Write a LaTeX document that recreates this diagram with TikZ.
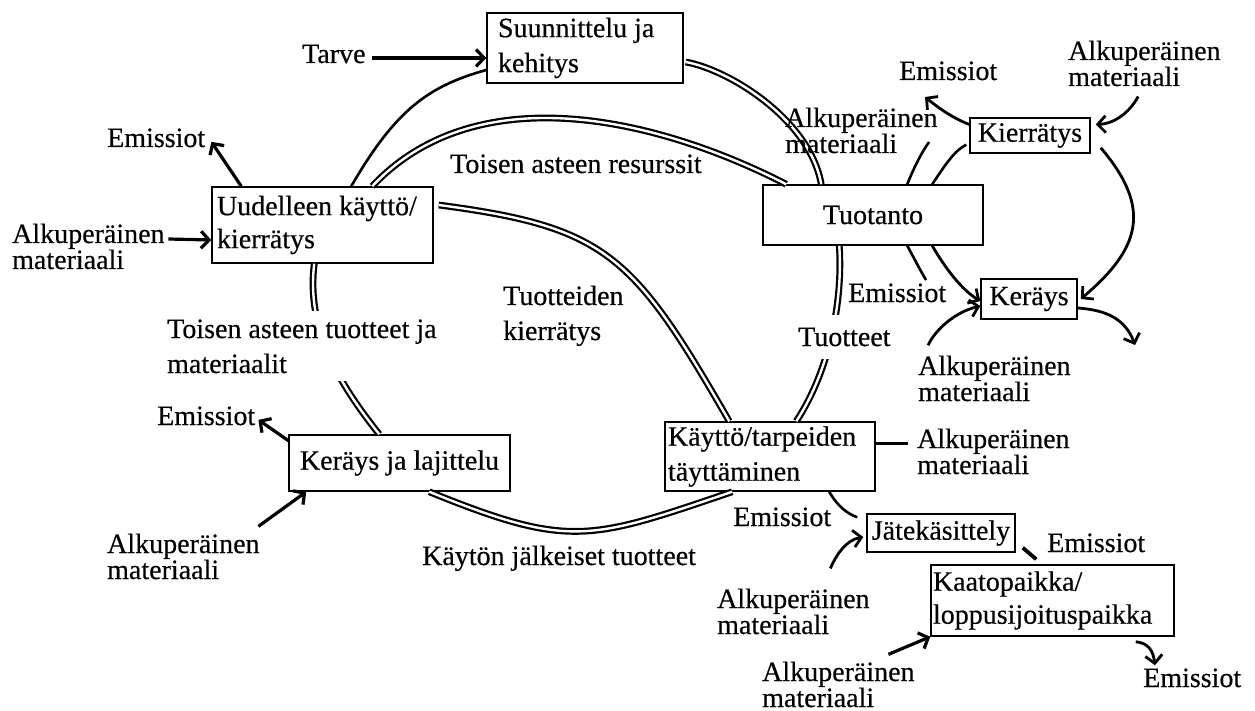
\documentclass[tikz,border=0pt]{standalone}
\usepackage{fontspec}
\setmainfont{Liberation Serif}[FakeBold=0.4]
\usetikzlibrary{arrows.meta}
\begin{document}
\begin{tikzpicture}[x=1pt,y=-1pt,
  box/.style={draw, line width=1.5pt, inner sep=0pt},
  fa/.style={font=\fontsize{28}{35}\selectfont},
  fb/.style={font=\fontsize{28}{33}\selectfont},
  lbl/.style={inner sep=0pt, anchor=base west, font=\fontsize{28}{34}\selectfont},
  alk/.style={lbl, text width=158pt, align=flush left, font=\fontsize{28}{26}\selectfont},
  ring/.style={draw, line width=2.2pt, double=white, double distance=2.4pt},
  ln/.style={draw, line width=2.6pt},
  thk/.style={draw, line width=3.8pt},
  hd/.style={-{Straight Barb[length=8pt,width=17pt]}},
  arr/.style={draw, line width=3.2pt, hd},
  arr2/.style={draw, line width=2.8pt, hd}
]
\useasboundingbox (0,0) rectangle (1255,711);
\fill[white] (0,0) rectangle (1255,711);

% boxes
\node[box, fa, minimum width=196pt, minimum height=70pt, text width=174pt, align=flush left] (sk) at (585,48) {Suunnittelu ja\\kehitys};
\node[box, fb, minimum width=221pt, minimum height=76pt, text width=211pt, align=flush left] (uud) at (322.5,225) {Uudelleen käyttö/\\kierrätys};
\node[box, fa, minimum width=220pt, minimum height=60pt] (tuo) at (873,215) {Tuotanto};
\node[box, fa, minimum width=120pt, minimum height=35pt] (kie) at (1030,135.5) {Kierrätys};
\node[box, fa, minimum width=96pt, minimum height=40pt] (ker) at (1029,299) {Keräys};
\node[box, fa, minimum width=221pt, minimum height=56pt] (kl) at (399.5,463) {Keräys ja lajittelu};
\node[box, fa, minimum width=210pt, minimum height=69pt, text width=204pt, align=flush left] (kay) at (770,456.5) {Käyttö/tarpeiden\\täyttäminen};
\node[box, fa, minimum width=148pt, minimum height=38pt] (jat) at (941,533) {Jätekäsittely};
\node[box, fb, minimum width=243pt, minimum height=71pt, text width=239pt, align=flush left] (kaa) at (1052.5,600.5) {Kaatopaikka/\\loppusijoituspaikka};

% main ring
\draw[ln] ([xshift=140pt]uud.north west) .. controls (396,109) and (429,86) .. ([yshift=-22pt]sk.west);
\draw[ring] ([xshift=2pt,yshift=-14pt]sk.east) .. controls (730,70) and (810,120) .. ([xshift=59pt]tuo.north west);
\draw[ring] ([xshift=161pt]uud.north west) .. controls (475,77) and (653,116) .. ([xshift=24pt]tuo.north west);
\draw[ring] ([xshift=5pt,yshift=20pt]uud.east) .. controls (606,227) and (633,254) .. ([xshift=65pt]kay.north west);
\draw[ring] ([xshift=77pt]tuo.south west) .. controls (843,300) and (830,370) .. ([xshift=132pt]kay.north west);
\draw[ring] ([xshift=68pt]kay.south west) .. controls (590,540) and (570,549) .. ([xshift=141pt]kl.south west);
\draw[ring] ([xshift=91pt]kl.north west) .. controls (340,385) and (306,330) .. ([xshift=103pt]uud.south west);

% right loop
\coordinate (c1) at (929,142);
\coordinate (c2) at (926,280);
\coordinate (c3) at (1135,345);
\draw[ln] ([xshift=170pt]tuo.north west) .. controls (945,165) and (955,150) .. ([xshift=-3pt,yshift=9pt]kie.south west);
\draw[ln] ([xshift=145pt]tuo.north west) .. controls (915,165) and (922,152) .. (c1);
\draw[ln] ([xshift=145pt]tuo.south west) .. controls (914,258) and (920,270) .. (c2);
\draw[arr2] ([xshift=170pt]tuo.south west) .. controls (945,268) and (962,290) .. ([yshift=-2pt]ker.west);
\draw[arr2] ([xshift=10pt,yshift=6pt]kie.south east) .. controls (1152,208) and (1141,248) .. ([xshift=3pt]ker.east);
\draw[arr2] ([yshift=-9pt]ker.east) .. controls (1105,310) and (1125,318) .. (c3);

% labels
\node[lbl] (tarve) at (302,63) {Tarve};
\node[lbl] (em1) at (107,147) {Emissiot};
\node[alk] (alk1) at (12,243) {Alkuperäinen\\materiaali};
\node[lbl] (em2) at (899,80) {Emissiot};
\node[alk] (alk2) at (1068,60) {Alkuperäinen\\materiaali};
\node[alk] (alk3) at (785,127) {Alkuperäinen\\materiaali};
\node[lbl, fill=white, inner xsep=4pt, inner ysep=2pt] (em3) at (844,302) {Emissiot};
\node[lbl, fill=white, inner xsep=2pt, inner ysep=13pt] (tuotteet) at (796,346) {Tuotteet};
\node[alk] (alk4) at (918,375) {Alkuperäinen\\materiaali};
\node[lbl] (tar) at (450,173) {Toisen asteen resurssit};
\node[lbl, text width=150pt, align=flush left, font=\fontsize{28}{35}\selectfont] (tk) at (503,305) {Tuotteiden\\kierrätys};
\node[lbl, fill=white, inner xsep=0pt, inner ysep=8pt, text width=290pt, align=flush left, font=\fontsize{28}{35}\selectfont] (tat) at (167,338) {Toisen asteen tuotteet ja\\materiaalit};
\node[lbl] (em4) at (157,425) {Emissiot};
\node[alk] (alk5) at (107,553) {Alkuperäinen\\materiaali};
\node[lbl] (kjt) at (422,565) {Käytön jälkeiset tuotteet};
\node[alk] (alk6) at (917,448) {Alkuperäinen\\materiaali};
\node[lbl] (em5) at (733,526) {Emissiot};
\node[alk] (alk7) at (717,608) {Alkuperäinen\\materiaali};
\node[lbl] (em6) at (1047,552) {Emissiot};
\node[alk] (alk8) at (762,681) {Alkuperäinen\\materiaali};
\node[lbl] (em7) at (1143,687) {Emissiot};

% arrows
\draw[arr] ([xshift=6pt,yshift=5pt]tarve.base east) -- ([yshift=-10pt]sk.west);
\draw[arr] ([xshift=30pt]uud.north west) -- ([xshift=6pt,yshift=-4pt]em1.east);
\draw[arr] ([xshift=-2pt,yshift=4pt]alk1.base east) -- ([yshift=-15pt]uud.west);
\draw[arr2] ([yshift=11pt]kie.west) .. controls (950,117) and (935,105) .. ([xshift=26pt,yshift=-17pt]em2.base west);
\draw[arr2] ([xshift=-9pt,yshift=-10pt]alk2.south) .. controls (1128,115) and (1112,124) .. ([xshift=5pt,yshift=11pt]kie.east);
\draw[arr2] ([xshift=10pt,yshift=10pt]alk4.north west) .. controls (935,330) and (955,312) .. ([yshift=-7pt]ker.west);
\draw[arr] ([xshift=1pt,yshift=-7pt]kl.north west) -- ([xshift=3pt,yshift=-4pt]em4.east);
\draw[arr] ([xshift=-7pt,yshift=7pt]alk5.north east) -- ([xshift=18pt]kl.south west);
\draw[thk] ([yshift=13pt]kay.east) -- ([xshift=-9pt,yshift=13pt]kay.east -| alk6.west);
\draw[ln] ([xshift=165pt]kay.south west) .. controls (838,507) and (848,514) .. ([xshift=-9pt,yshift=-4pt]jat.north west);
\draw[arr2] ([xshift=-45pt,yshift=20pt]alk7.north east) .. controls (836,555) and (846,540) .. ([xshift=-3pt,yshift=-4pt]jat.west);
\draw[thk] ([xshift=7pt,yshift=5pt]jat.south east) -- ([xshift=106pt,yshift=5pt]kaa.north west);
\draw[arr] ([xshift=-32pt,yshift=7pt]alk8.north east) -- (kaa.south west);
\draw[arr2] ([xshift=-39pt,yshift=-5pt]kaa.south east) .. controls (1148,643) and (1153,650) .. ([xshift=12pt,yshift=3pt]em7.north west);
\end{tikzpicture}
\end{document}
